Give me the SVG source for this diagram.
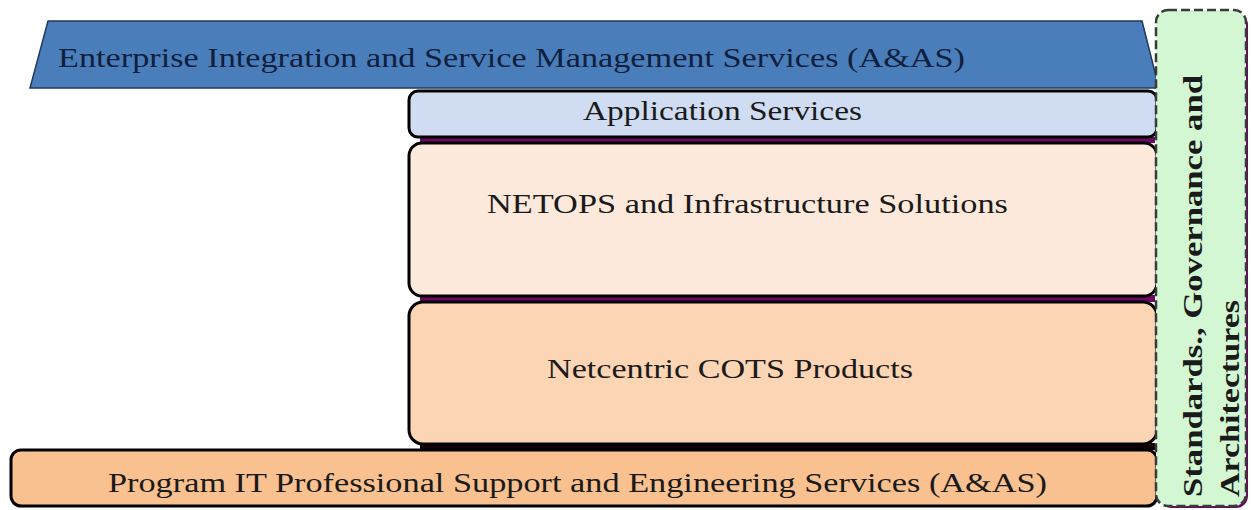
<svg xmlns="http://www.w3.org/2000/svg" width="1251" height="510" viewBox="0 0 1251 510">
<style>
text{font-family:'Liberation Serif','Times New Roman',Tinos,serif;font-size:27px;fill:#1a1a1a}
.box{stroke:#000;stroke-width:3}
.band{fill:#6b0a5e}
.v{font-weight:bold}
</style>
<rect width="1251" height="510" fill="#fff"/>
<g id="bands">
<rect class="band" x="420" y="137" width="735" height="6"/>
<rect class="band" x="420" y="295" width="735" height="7"/>
<rect x="420" y="443" width="735" height="7" fill="#150008"/>
</g>
<g id="enterprise">
<polygon points="48,21 1142,21 1159,88 30,88" fill="#4a7ebb" stroke="#1f3a5f" stroke-width="1.5"/>
<text x="58" y="67" font-size="28" style="fill:#0f1f3d" textLength="907" lengthAdjust="spacingAndGlyphs">Enterprise Integration and Service Management Services (A&amp;AS)</text>
</g>
<g id="app">
<rect class="box" x="409" y="91" width="748" height="46" rx="9" fill="#cfdcf1"/>
<text x="583" y="120" textLength="279" lengthAdjust="spacingAndGlyphs">Application Services</text>
</g>
<g id="netops">
<rect class="box" x="409" y="143" width="748" height="153" rx="13" fill="#fde9db"/>
<text x="487" y="213" textLength="521" lengthAdjust="spacingAndGlyphs">NETOPS and Infrastructure Solutions</text>
</g>
<g id="cots">
<rect class="box" x="409" y="302" width="748" height="142" rx="14" fill="#fcd5b4"/>
<text x="547" y="378" textLength="366" lengthAdjust="spacingAndGlyphs">Netcentric COTS Products</text>
</g>
<g id="program">
<rect class="box" x="11" y="450" width="1146" height="56" rx="10" fill="#f9c18f"/>
<text x="108" y="492" textLength="939" lengthAdjust="spacingAndGlyphs">Program IT Professional Support and Engineering Services (A&amp;AS)</text>
</g>
<g id="standards">
<rect x="1160" y="13" width="88" height="495" rx="12" fill="#6b0a5e"/>
<rect x="1156" y="10" width="90" height="496" rx="12" fill="#d2f7d2" stroke="#3a3a3a" stroke-width="2.5" stroke-dasharray="9,4"/>
<text class="v" transform="translate(1202,497) rotate(-90)" textLength="422" lengthAdjust="spacingAndGlyphs">Standards., Governance  and</text>
<text class="v" transform="translate(1239,497) rotate(-90)" textLength="197" lengthAdjust="spacingAndGlyphs">Architectures</text>
</g>
<g id="connectors"></g>
</svg>
